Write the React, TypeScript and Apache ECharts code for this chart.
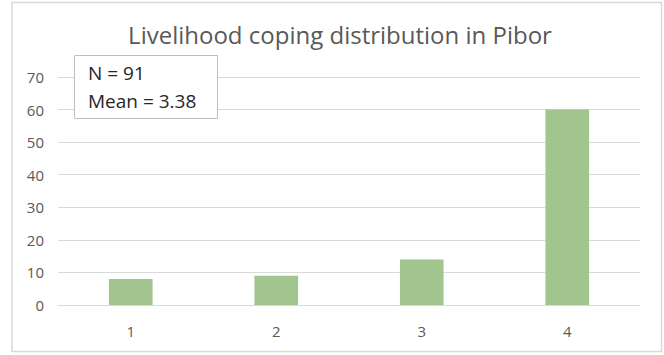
import React, { useEffect, useRef } from "react";
import * as echarts from "echarts";

const categories = ["1", "2", "3", "4"];
const counts = [8, 9, 14, 60];
const yTicks = [0, 10, 20, 30, 40, 50, 60, 70];
const statLines = ["N = 91", "Mean = 3.38"];

export default function App() {
  const ref = useRef<HTMLDivElement>(null);

  useEffect(() => {
    if (!ref.current) return;
    const chart = echarts.init(ref.current, null, { renderer: "svg" });
    const font = "'Open Sans', 'Noto Sans', sans-serif";
    chart.setOption({
      animation: false,
      backgroundColor: "#ffffff",
      title: {
        text: "Livelihood coping distribution in Pibor",
        left: 335,
        textAlign: "center",
        top: 17,
        textStyle: { fontFamily: font, fontSize: 24, fontWeight: "normal", color: "#595959" },
      },
      grid: { left: 58, right: 24, top: 77, bottom: 50 },
      xAxis: {
        type: "category",
        data: categories,
        axisLine: { show: true, lineStyle: { color: "#d9d9d9", width: 1 } },
        axisTick: { show: false },
        axisLabel: { color: "#595959", fontSize: 15, margin: 18, fontFamily: font },
      },
      yAxis: {
        type: "value",
        min: yTicks[0],
        max: yTicks[yTicks.length - 1],
        interval: 10,
        axisLine: { show: false },
        axisTick: { show: false },
        axisLabel: { color: "#595959", fontSize: 15, margin: 14, fontFamily: font },
        splitLine: { lineStyle: { color: "#d9d9d9", width: 1 } },
      },
      series: [
        {
          type: "bar",
          data: counts,
          barWidth: "30%",
          itemStyle: { color: "#a2c48f" },
        },
      ],
      graphic: [
        {
          type: "rect",
          shape: { x: 12, y: 2.5, width: 649.5, height: 349 },
          style: { fill: "none", stroke: "#d9d9d9", lineWidth: 1.5 },
          silent: true,
        },
        {
          type: "rect",
          shape: { x: 74.5, y: 55.5, width: 143, height: 63 },
          style: { fill: "#ffffff", stroke: "#bfbfbf", lineWidth: 1 },
          z: 10,
        },
        {
          type: "text",
          x: 88,
          y: 73,
          style: {
            text: statLines[0],
            font: `19px ${font}`,
            fill: "#262626",
            textVerticalAlign: "middle",
          },
          z: 11,
        },
        {
          type: "text",
          x: 88,
          y: 101,
          style: {
            text: statLines[1],
            font: `19px ${font}`,
            fill: "#262626",
            textVerticalAlign: "middle",
          },
          z: 11,
        },
      ],
    });
    return () => chart.dispose();
  }, []);

  return (
    <div
      ref={ref}
      style={{ position: "absolute", left: 0, top: 0, width: 664, height: 355 }}
    />
  );
}
